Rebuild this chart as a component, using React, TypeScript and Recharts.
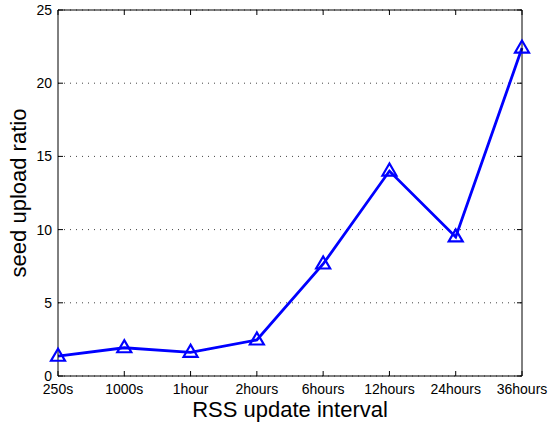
import React from 'react';
import { LineChart, Line, XAxis, YAxis, CartesianGrid, Label } from 'recharts';

const categories = ['250s', '1000s', '1hour', '2hours', '6hours', '12hours', '24hours', '36hours'];
const seedUploadRatio = [1.35, 1.93, 1.62, 2.46, 7.65, 14.0, 9.5, 22.4];
const yTicks = [0, 5, 10, 15, 20, 25];

const data = categories.map((name, i) => ({ name, ratio: seedUploadRatio[i] }));

const FONT = '"Liberation Sans", Arial, Helvetica, sans-serif';
const TICK_LEN = 5;
const X_MARGIN = 8;
const Y_MARGIN = 6;

const Triangle = (props: any) => {
  const { cx, cy } = props;
  if (cx == null || cy == null) return null;
  const pts = `${cx},${cy - 7.5} ${cx - 7},${cy + 4.5} ${cx + 7},${cy + 4.5}`;
  return <polygon points={pts} fill="none" stroke="#0000ff" strokeWidth={2.2} />;
};

const BottomTick = (props: any) => {
  const { x, y, payload } = props;
  const axisY = y - X_MARGIN;
  return (
    <g>
      <path d={`M${x},${axisY}L${x},${axisY - TICK_LEN}`} stroke="#000" strokeWidth={1} fill="none" />
      <text x={x} y={y} dy={10} textAnchor="middle" fontSize={14} fill="#000" fontFamily={FONT}>
        {payload.value}
      </text>
    </g>
  );
};

const LeftTick = (props: any) => {
  const { x, y, payload } = props;
  const axisX = x + Y_MARGIN;
  return (
    <g>
      <path d={`M${axisX},${y}L${axisX + TICK_LEN},${y}`} stroke="#000" strokeWidth={1} fill="none" />
      <text x={x} y={y} dy={5} textAnchor="end" fontSize={14} fill="#000" fontFamily={FONT}>
        {payload.value}
      </text>
    </g>
  );
};

const TopTick = (props: any) => {
  const { x, y } = props;
  return <path d={`M${x},${y}L${x},${y + TICK_LEN}`} stroke="#000" strokeWidth={1} fill="none" />;
};

const RightTick = (props: any) => {
  const { x, y } = props;
  return <path d={`M${x},${y}L${x - TICK_LEN},${y}`} stroke="#000" strokeWidth={1} fill="none" />;
};

export default function App() {
  return (
    <div style={{ position: 'absolute', left: 0, top: 0, width: 548, height: 424, background: '#fff' }}>
      <LineChart
        width={548}
        height={424}
        data={data}
        margin={{ top: 9, right: 25, left: 0, bottom: 0 }}
      >
        <CartesianGrid horizontal vertical={false} stroke="#444" strokeDasharray="1 5" />
        <XAxis
          dataKey="name"
          scale="point"
          height={48}
          stroke="#000"
          tickLine={false}
          tickSize={0}
          tickMargin={X_MARGIN}
          tick={BottomTick}
          interval={0}
        >
          <Label
            value="RSS update interval"
            position="insideBottom"
            offset={7}
            style={{ fontSize: 22, fill: '#000', fontFamily: FONT }}
          />
        </XAxis>
        <XAxis
          xAxisId="top"
          dataKey="name"
          scale="point"
          orientation="top"
          height={1}
          stroke="#000"
          tickLine={false}
          tickSize={0}
          tickMargin={0}
          tick={TopTick}
          interval={0}
        />
        <YAxis
          domain={[0, 25]}
          ticks={yTicks}
          width={58}
          stroke="#000"
          tickLine={false}
          tickSize={0}
          tickMargin={Y_MARGIN}
          tick={LeftTick}
          interval={0}
        >
          <Label
            value="seed upload ratio"
            angle={-90}
            position="insideLeft"
            offset={18}
            style={{ fontSize: 22, fill: '#000', fontFamily: FONT, textAnchor: 'middle' }}
          />
        </YAxis>
        <YAxis
          yAxisId="right"
          orientation="right"
          domain={[0, 25]}
          ticks={yTicks}
          type="number"
          width={1}
          stroke="#000"
          tickLine={false}
          tickSize={0}
          tickMargin={0}
          tick={RightTick}
          interval={0}
        />
        <Line
          xAxisId="top"
          yAxisId="right"
          dataKey="ratio"
          stroke="none"
          dot={false}
          activeDot={false}
          legendType="none"
          isAnimationActive={false}
        />
        <Line
          dataKey="ratio"
          stroke="#0000ff"
          strokeWidth={2.8}
          dot={Triangle}
          activeDot={false}
          isAnimationActive={false}
        />
      </LineChart>
    </div>
  );
}
